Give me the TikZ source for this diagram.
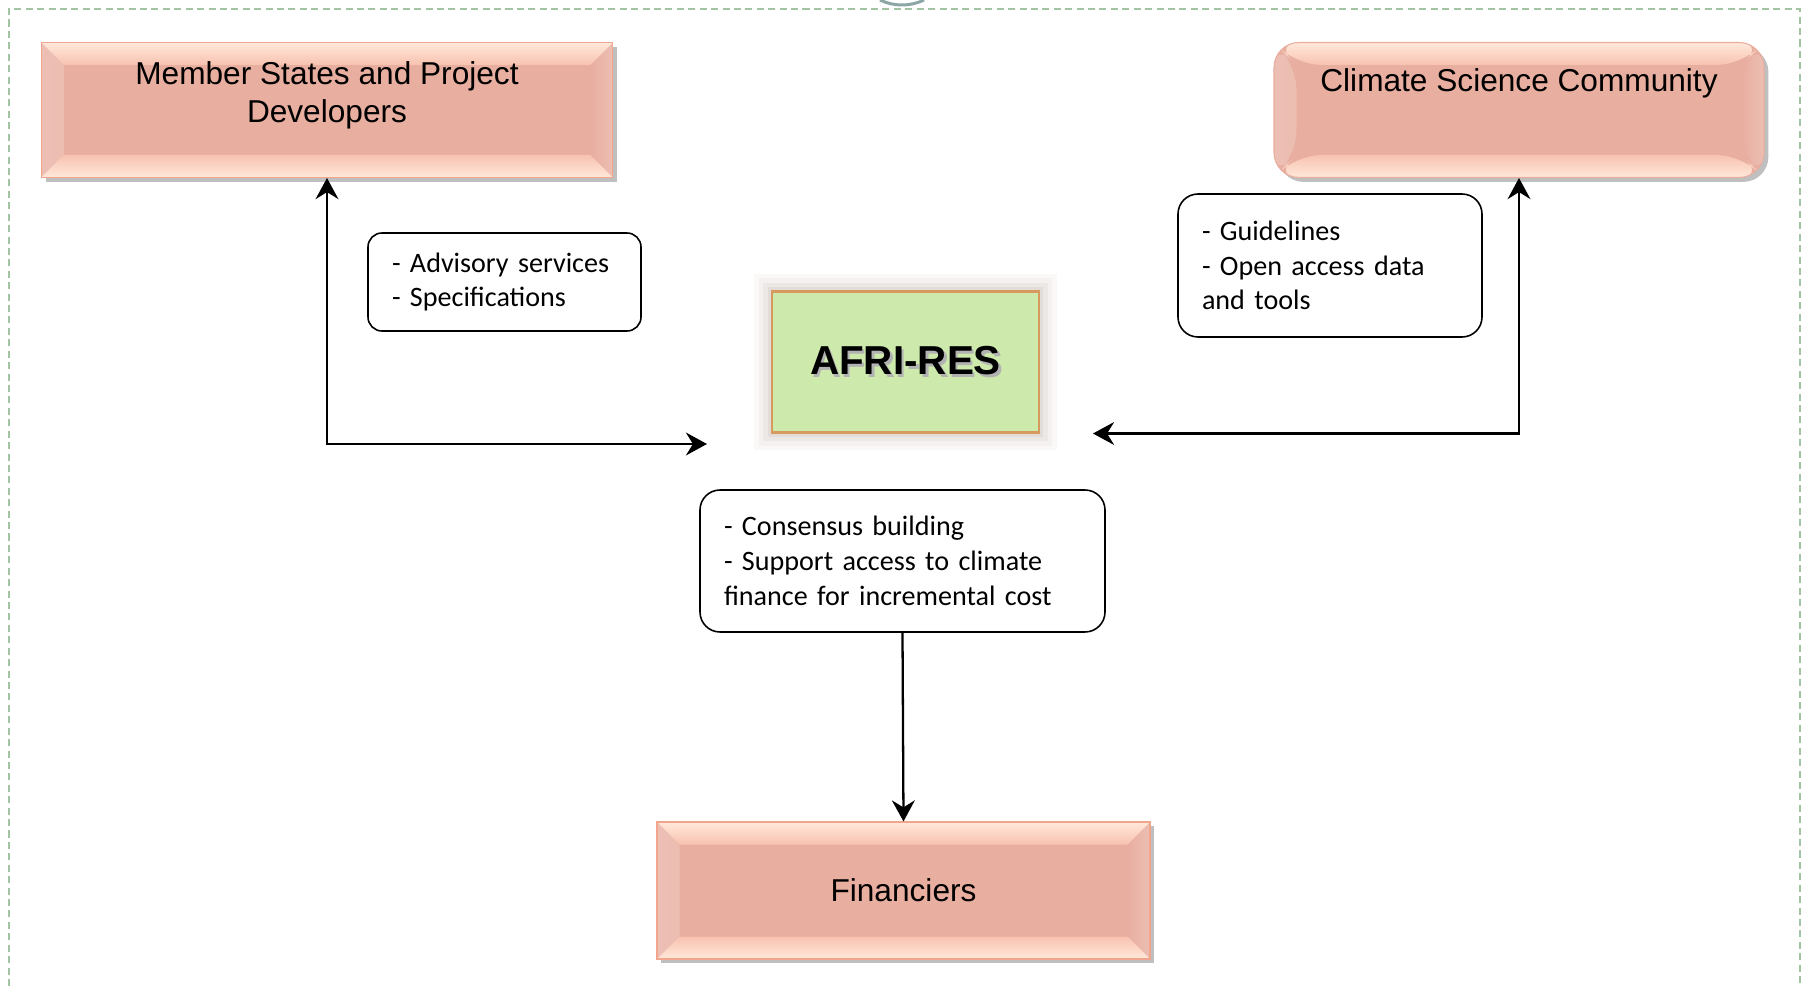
\documentclass[tikz,border=0pt]{standalone}
\usepackage{fontspec}
\setmainfont{Liberation Sans}
\newfontfamily\notefont{Carlito}
\usepackage{tikz}
\usetikzlibrary{arrows.meta,shadows}

\definecolor{framegreen}{HTML}{A3C4A3}
\definecolor{ringgray}{HTML}{8CA6A6}
\definecolor{salmon}{HTML}{E8AEA0}
\definecolor{salmonlight}{HTML}{FFE8DA}
\definecolor{salmonmid}{HTML}{F8C2B0}
\definecolor{salmonrim}{HTML}{F2A48C}
\definecolor{afrigreen}{HTML}{CDE9AB}
\definecolor{afririm}{HTML}{D69A5E}
\definecolor{afriglow}{HTML}{A08A7E}

\tikzset{
  bevelbox/.style={fill=salmon, draw=salmonrim, line width=0.6pt, inner sep=0pt,
    drop shadow={shadow xshift=2.5pt, shadow yshift=-2.5pt, opacity=0.25, fill=black},
    path picture={
      % side faces
      \shade[left color=salmon!80!white, right color=salmon]
        (path picture bounding box.north west) -- ([shift={(0.45,-0.45)}]path picture bounding box.north west)
        -- ([shift={(0.45,0.45)}]path picture bounding box.south west) -- (path picture bounding box.south west) -- cycle;
      \shade[left color=salmon, right color=salmon!80!white]
        (path picture bounding box.north east) -- ([shift={(-0.45,-0.45)}]path picture bounding box.north east)
        -- ([shift={(-0.45,0.45)}]path picture bounding box.south east) -- (path picture bounding box.south east) -- cycle;
      % top and bottom faces
      \shade[top color=salmonlight, bottom color=salmonmid]
        (path picture bounding box.north west) -- (path picture bounding box.north east)
        -- ([shift={(-0.45,-0.45)}]path picture bounding box.north east) -- ([shift={(0.45,-0.45)}]path picture bounding box.north west) -- cycle;
      \shade[top color=salmonmid, bottom color=salmonlight]
        (path picture bounding box.south west) -- (path picture bounding box.south east)
        -- ([shift={(-0.45,0.45)}]path picture bounding box.south east) -- ([shift={(0.45,0.45)}]path picture bounding box.south west) -- cycle;
    },
    font=\fontsize{18}{21.6}\selectfont},
  afribox/.style={fill=afrigreen, draw=afririm, line width=1.5pt,
    preaction={draw=afriglow, line width=20pt, opacity=0.05, rounded corners=8pt},
    preaction={draw=afriglow, line width=15pt, opacity=0.07, rounded corners=6pt},
    preaction={draw=afriglow, line width=10pt, opacity=0.09, rounded corners=4pt},
    preaction={draw=afriglow, line width=5pt, opacity=0.12, rounded corners=2pt},
    font=\bfseries\fontsize{23}{27}\selectfont},
  notebox/.style={draw=black, line width=0.9pt, fill=white, rounded corners=0.4cm,
    align=left, inner xsep=0.48cm, inner ysep=0pt,
    font=\notefont\fontsize{16}{19.8}\selectfont},
}

\begin{document}
\begin{tikzpicture}[>={Stealth[length=12pt,width=13pt,inset=4pt]}]
    \useasboundingbox (0,0) rectangle (36.16,-19.72);

    % Frame
    \draw[framegreen, line width=1pt, dash pattern=on 4pt off 2.5pt]
        (0.18,-19.72) -- (0.18,-0.18) -- (36.0,-0.18) -- (36.0,-19.72);
    \draw[ringgray, line width=1.7pt] (17.60,0) arc[start angle=-115.6, end angle=-64.4, radius=1.02];

    % Stakeholders
    \node[bevelbox, minimum width=11.43cm, minimum height=2.7cm] (member) at (6.54,-2.20)
        {\parbox[c][2.7cm][t]{11cm}{\centering\vspace*{11pt}Member States and Project\\Developers}};
    \node[bevelbox, rounded corners=0.5cm, draw=salmon, minimum width=9.8cm, minimum height=2.7cm] (climate) at (30.38,-2.20)
        {\parbox[c][2.7cm][t]{9.5cm}{\centering\vspace*{15pt}Climate Science Community}};
    \node[bevelbox, minimum width=9.86cm, minimum height=2.74cm] (fin) at (18.07,-17.81) {Financiers};

    % Centre
    \node[afribox, minimum width=5.34cm, minimum height=2.82cm] (afri) at (18.11,-7.24)
        {\rlap{\hspace{1.5pt}\raisebox{-1.5pt}{\color{black!30}AFRI-RES}}AFRI-RES};

    % Services
    \node[notebox, rounded corners=0.28cm, text width=4.5cm, minimum height=1.96cm] (advisory) at (10.09,-5.64)
        {- Advisory services\\- Specifications};
    \node[notebox, text width=5.12cm, minimum height=2.86cm] (guide) at (26.6,-5.31)
        {- Guidelines\\- Open access data\\and tools};
    \node[notebox, text width=7.14cm, minimum height=2.84cm] (consensus) at (18.05,-11.22)
        {- Consensus building\\- Support access to climate\\finance for incremental cost};

    % Links
    \coordinate (memberend) at (14.14,-8.88);
    \coordinate (climateend) at (21.86,-8.67);
    \draw[<->, line width=1.3pt] (member.south) |- (memberend);
    \draw[<->, line width=1.3pt] (climate.south) |- (climateend);
    \draw[->, line width=1.3pt] (consensus.south) -- (fin.north);
\end{tikzpicture}
\end{document}
